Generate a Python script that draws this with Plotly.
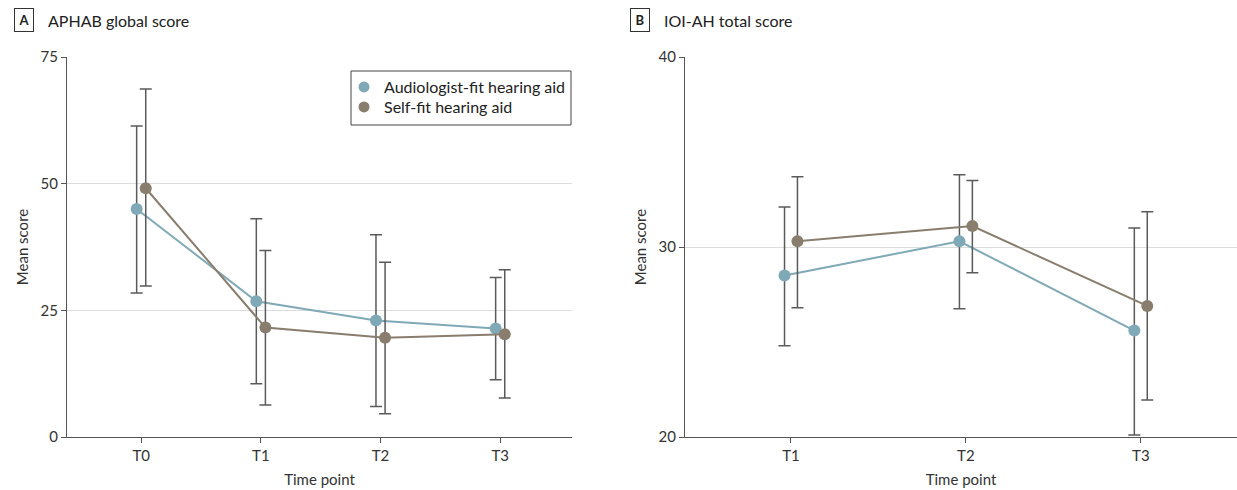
import plotly.graph_objects as go

# ---------------- data ----------------
time_a = ["T0", "T1", "T2", "T3"]
aud_a_mean = [45.0, 26.8, 23.0, 21.4]
aud_a_low = [28.4, 10.5, 6.0, 11.3]
aud_a_high = [61.4, 43.1, 39.9, 31.5]
self_a_mean = [49.1, 21.6, 19.6, 20.3]
self_a_low = [29.8, 6.3, 4.6, 7.7]
self_a_high = [68.7, 36.8, 34.5, 33.0]

time_b = ["T1", "T2", "T3"]
aud_b_mean = [28.5, 30.3, 25.6]
aud_b_low = [24.8, 26.75, 20.1]
aud_b_high = [32.1, 33.8, 31.0]
self_b_mean = [30.3, 31.1, 26.9]
self_b_low = [26.8, 28.65, 21.95]
self_b_high = [33.7, 33.5, 31.85]

series_names = ["Audiologist-fit hearing aid", "Self-fit hearing aid"]
colors = ["#80A9B7", "#897D6D"]
FONT = "Lato, 'Open Sans', sans-serif"
EB_COLOR = "#5a5a5a"

fig = go.Figure()


def add_series(xaxis, yaxis, cats, mean, low, high, color, name, shift):
    xs = [i + shift for i in range(len(cats))]
    fig.add_trace(go.Scatter(
        x=xs, y=mean, mode="lines+markers", name=name, showlegend=False,
        xaxis=xaxis, yaxis=yaxis,
        line=dict(color=color, width=2),
        marker=dict(color=color, size=12),
        error_y=dict(type="data", symmetric=False,
                     array=[h - m for h, m in zip(high, mean)],
                     arrayminus=[m - l for m, l in zip(mean, low)],
                     color=EB_COLOR, thickness=1.5, width=6),
    ))


add_series("x", "y", time_a, aud_a_mean, aud_a_low, aud_a_high, colors[0], series_names[0], -0.038)
add_series("x", "y", time_a, self_a_mean, self_a_low, self_a_high, colors[1], series_names[1], 0.038)
add_series("x2", "y2", time_b, aud_b_mean, aud_b_low, aud_b_high, colors[0], series_names[0], -0.037)
add_series("x2", "y2", time_b, self_b_mean, self_b_low, self_b_high, colors[1], series_names[1], 0.037)

# legend-only marker traces (one legend per entry for tight row spacing)
for name, c, lg in zip(series_names, colors, ["legend", "legend2"]):
    fig.add_trace(go.Scatter(x=[None], y=[None], mode="markers", name=name, legend=lg,
                             marker=dict(color=c, size=11), xaxis="x", yaxis="y"))

W, H = 1237, 490
ydom = [1 - 437 / H, 1 - 57 / H]

axis_common = dict(showline=True, linecolor="#555", linewidth=1.2, ticks="outside",
                   ticklen=5, tickcolor="#555", tickfont=dict(size=15, color="#333", family=FONT),
                   zeroline=False, automargin=False,
                   title_font=dict(size=15, color="#333", family=FONT))

legend_common = dict(xanchor="left", yanchor="top", borderwidth=0, bgcolor="rgba(0,0,0,0)",
                     font=dict(size=16, color="#222", family=FONT), itemwidth=30)

fig.update_layout(
    width=W, height=H, margin=dict(l=0, r=0, t=0, b=0),
    plot_bgcolor="white", paper_bgcolor="white",
    font=dict(family=FONT, size=15, color="#333"),
    xaxis=dict(domain=[67 / W, 572 / W], range=[-0.62, 3.6], tickvals=list(range(len(time_a))),
               ticktext=time_a, showgrid=False, title_text="Time point", title_standoff=11,
               anchor="y", **axis_common),
    yaxis=dict(domain=ydom, range=[0, 75], dtick=25, showgrid=True, gridcolor="#dcdcdc",
               title_text="Mean score", title_standoff=8, anchor="x", **axis_common),
    xaxis2=dict(domain=[685 / W, 1.0], range=[-0.606, 2.55], tickvals=list(range(len(time_b))),
                ticktext=time_b, showgrid=False, title_text="Time point", title_standoff=11,
                anchor="y2", **axis_common),
    yaxis2=dict(domain=ydom, range=[20, 40], dtick=10, showgrid=True, gridcolor="#dcdcdc",
                title_text="Mean score", title_standoff=8, anchor="x2", **axis_common),
    legend=dict(x=344 / W, y=1 - 70 / H, **legend_common),
    legend2=dict(x=344 / W, y=1 - 90 / H, **legend_common),
)

# legend frame
fig.add_shape(type="rect", xref="paper", yref="paper", x0=351 / W, x1=571 / W,
              y0=1 - 125 / H, y1=1 - 71 / H, line=dict(color="#444", width=1),
              fillcolor="rgba(0,0,0,0)", layer="above")

# panel labels
for px, letter, title in [(14, "A", "APHAB global score"), (630, "B", "IOI-AH total score")]:
    fig.add_annotation(x=px / W, y=1 - 8 / H, xref="paper", yref="paper", xanchor="left", yanchor="top",
                       text="<b>" + letter + "</b>", showarrow=False, bordercolor="#333", borderwidth=1,
                       borderpad=3, font=dict(size=13, color="#222", family=FONT), width=12)
    fig.add_annotation(x=(px + 32) / W, y=1 - 9 / H, xref="paper", yref="paper", xanchor="left", yanchor="top",
                       text=title, showarrow=False, font=dict(size=16, color="#222", family=FONT))

fig.write_html("out.html", config={"displayModeBar": False},
               post_script="document.body.style.margin='0';")
